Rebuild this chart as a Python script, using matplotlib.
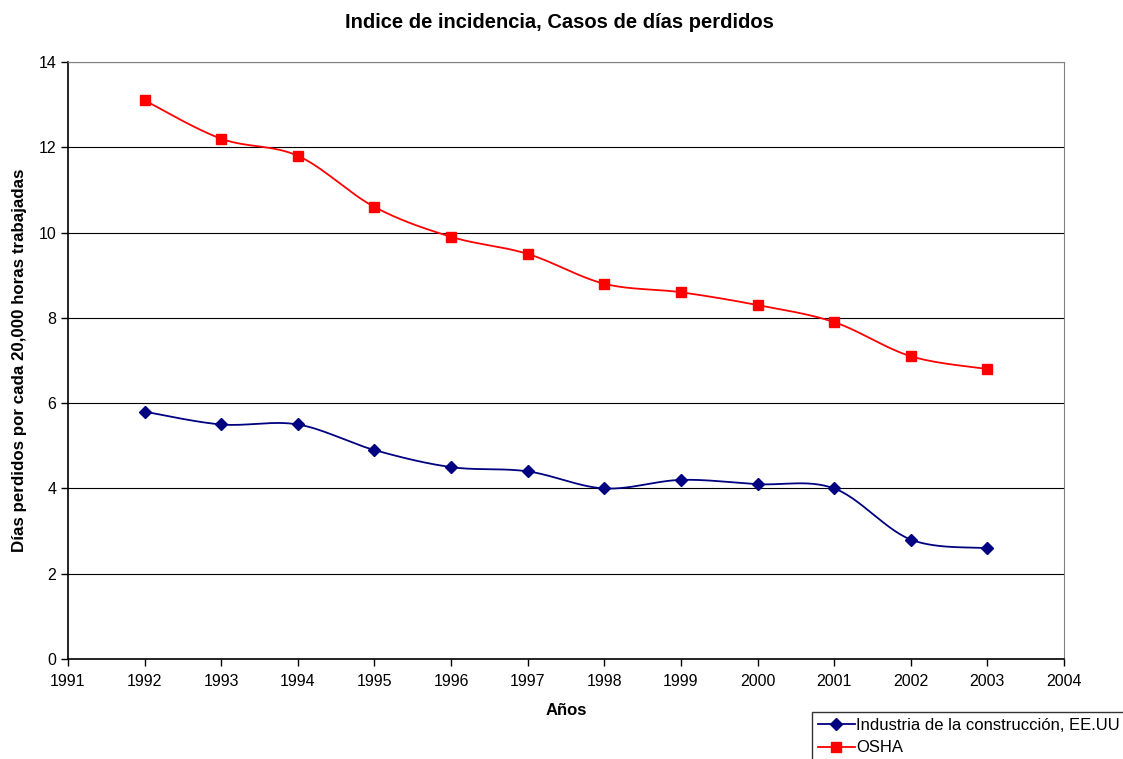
import numpy as np
import matplotlib
matplotlib.use("Agg")
import matplotlib.pyplot as plt

plt.rcParams['font.family'] = ['Liberation Sans', 'DejaVu Sans']

years = [1992, 1993, 1994, 1995, 1996, 1997, 1998, 1999, 2000, 2001, 2002, 2003]
industria = [5.8, 5.5, 5.5, 4.9, 4.5, 4.4, 4.0, 4.2, 4.1, 4.0, 2.8, 2.6]
osha = [13.1, 12.2, 11.8, 10.6, 9.9, 9.5, 8.8, 8.6, 8.3, 7.9, 7.1, 6.8]


def smooth(x, y, n=30):
    # Excel-style smoothed line (Catmull-Rom through the points)
    x = np.asarray(x, float)
    y = np.asarray(y, float)
    px = np.concatenate([[x[0]], x, [x[-1]]])
    py = np.concatenate([[y[0]], y, [y[-1]]])
    xs, ys = [], []
    t = np.linspace(0, 1, n)
    for i in range(1, len(px) - 2):
        p0, p1, p2, p3 = [np.array([px[j], py[j]]) for j in range(i - 1, i + 3)]
        c1 = p1 + (p2 - p0) / 6
        c2 = p2 - (p3 - p1) / 6
        pts = ((1 - t)[:, None] ** 3 * p1 + 3 * ((1 - t) ** 2 * t)[:, None] * c1
               + 3 * ((1 - t) * t ** 2)[:, None] * c2 + (t ** 3)[:, None] * p2)
        xs.extend(pts[:, 0])
        ys.extend(pts[:, 1])
    return xs, ys


fig = plt.figure(figsize=(11.23, 7.59), dpi=100)
ax = fig.add_axes([68 / 1123, 1 - 659 / 759, (1064 - 68) / 1123, (659 - 62) / 759])

sx, sy = smooth(years, industria)
ax.plot(sx, sy, color='#000080', lw=1.3)
ax.plot(years, industria, 'D', color='#000080', ms=6)
sx, sy = smooth(years, osha)
ax.plot(sx, sy, color='#ff0000', lw=1.3)
ax.plot(years, osha, 's', color='#ff0000', ms=7)

# legend proxies
h1, = ax.plot([], [], color='#000080', marker='D', ms=6, lw=1.3)
h2, = ax.plot([], [], color='#ff0000', marker='s', ms=7, lw=1.3)
fig.legend([h1, h2], ['Industria de la construcción, EE.UU', 'OSHA'],
           loc='upper left', bbox_to_anchor=(812 / 1123, 1 - 712 / 759),
           frameon=True, fancybox=False, edgecolor='black', fontsize=12,
           handlelength=2.2, handletextpad=0.1, borderpad=0.35, labelspacing=0.45,
           borderaxespad=0)

ax.set_xlim(1991, 2004)
ax.set_ylim(0, 14)
ax.set_xticks(range(1991, 2005))
ax.set_yticks(range(0, 15, 2))
ax.yaxis.grid(True, color='black', lw=0.8)
ax.set_axisbelow(True)
ax.tick_params(direction='out', length=5, labelsize=11.5, width=1)
ax.tick_params(axis='x', pad=6)
for s in ['top', 'right']:
    ax.spines[s].set_color('#808080')
ax.spines['left'].set_linewidth(1.2)
ax.spines['bottom'].set_linewidth(1.2)

ax.set_xlabel('Años', fontsize=12, fontweight='bold', labelpad=10)
ax.set_ylabel('Días perdidos por cada 20,000 horas trabajadas', fontsize=12.2,
              fontweight='bold', labelpad=8)
fig.text(559 / 1123, 1 - 22 / 759, 'Indice de incidencia, Casos de días perdidos',
         ha='center', va='center', fontsize=14.5, fontweight='bold')

fig.savefig('out.png', dpi=100)
